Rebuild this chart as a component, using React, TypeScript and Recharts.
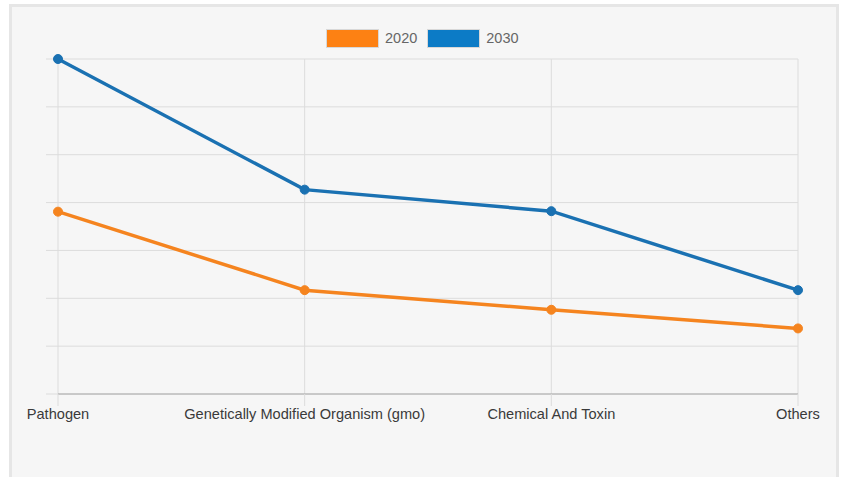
import React from "react";
import { LineChart, Line, XAxis, YAxis, CartesianGrid } from "recharts";

const categories = [
  "Pathogen",
  "Genetically Modified Organism (gmo)",
  "Chemical And Toxin",
  "Others",
];
const values2020 = [3.81, 2.17, 1.76, 1.37];
const values2030 = [7.0, 4.27, 3.82, 2.17];
const yTicks = [0, 1, 2, 3, 4, 5, 6, 7];

const series = [
  { key: "y2020", name: "2020", line: "#f5841f", swatch: "#fd8113" },
  { key: "y2030", name: "2030", line: "#1a71b2", swatch: "#0c7bc6" },
];

const data = categories.map((c, i) => ({
  category: c,
  y2020: values2020[i],
  y2030: values2030[i],
}));

const FONT = '"Liberation Sans", Arial, Helvetica, sans-serif';

export default function App() {
  return (
    <div>
      <div
        style={{
          position: "absolute",
          left: 9,
          top: 4,
          width: 830,
          height: 490,
          boxSizing: "border-box",
          border: "3px solid #e6e6e6",
          background: "#f6f6f6",
        }}
      />
      <div
        style={{
          position: "absolute",
          left: 326,
          top: 29,
          display: "flex",
          alignItems: "center",
          fontFamily: FONT,
          fontSize: 14.5,
          color: "#666",
        }}
      >
        {series.map((s, i) => (
          <div
            key={s.key}
            style={{ display: "flex", alignItems: "center", marginRight: i === 0 ? 10 : 0 }}
          >
            <div
              style={{
                width: 51,
                height: 17,
                background: s.swatch,
                border: "1px solid #d8d8d8",
                marginRight: 6,
              }}
            />
            <span style={{ lineHeight: "19px" }}>{s.name}</span>
          </div>
        ))}
      </div>
      <div style={{ position: "absolute", left: 0, top: 0 }}>
        <LineChart
          width={842}
          height={477}
          data={data}
          margin={{ top: 59, right: 44, left: 46, bottom: 53 }}
        >
          <CartesianGrid stroke="#dcdcdc" strokeWidth={1} />
          <XAxis
            dataKey="category"
            height={30}
            interval={0}
            axisLine={{ stroke: "#a8a8a8" }}
            tickLine={{ stroke: "#dcdcdc" }}
            tickSize={12}
            tickMargin={3}
            tick={{ fill: "#3a3a3a", fontSize: 14.6, fontFamily: FONT }}
          />
          <YAxis
            width={12}
            domain={[0, 7]}
            ticks={yTicks}
            axisLine={false}
            tickLine={{ stroke: "#dcdcdc" }}
            tickSize={12}
            tickFormatter={() => ""}
          />
          {series.map((s) => (
            <Line
              key={s.key}
              dataKey={s.key}
              name={s.name}
              type="linear"
              stroke={s.line}
              strokeWidth={3.5}
              dot={{ r: 4.5, fill: s.line, stroke: s.line, strokeWidth: 1 }}
              activeDot={false}
              isAnimationActive={false}
            />
          ))}
        </LineChart>
      </div>
    </div>
  );
}
